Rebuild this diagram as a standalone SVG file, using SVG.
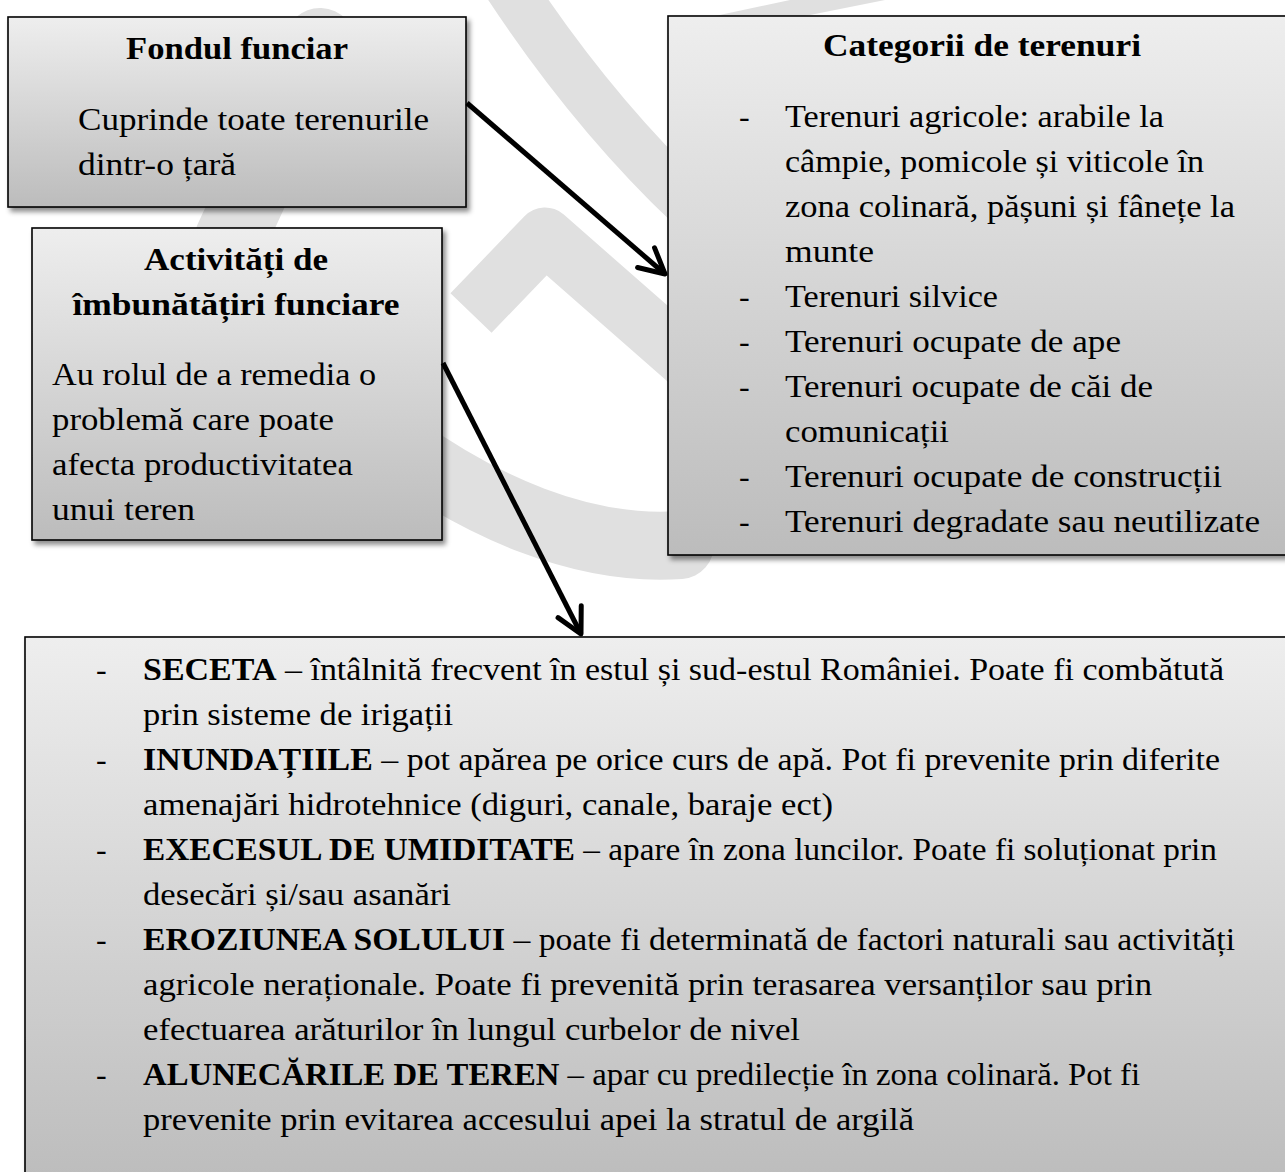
<svg xmlns="http://www.w3.org/2000/svg" width="1285" height="1172" viewBox="0 0 1285 1172">
<defs>
<linearGradient id="g" x1="0" y1="0" x2="0" y2="1">
<stop offset="0" stop-color="#eeeeee"/>
<stop offset="1" stop-color="#bcbcbc"/>
</linearGradient>
<filter id="sh" x="-5%" y="-5%" width="112%" height="115%">
<feDropShadow dx="3" dy="4" stdDeviation="2.5" flood-color="#000" flood-opacity="0.45"/>
</filter>
<marker id="ah" markerUnits="userSpaceOnUse" viewBox="-32 -20 40 40" markerWidth="40" markerHeight="40" refX="0" refY="0" orient="auto" overflow="visible">
<path d="M -25,-13 L 0,0 L -25,13" fill="none" stroke="#000" stroke-width="5" stroke-linecap="round" stroke-linejoin="round"/>
</marker>
<style>
.box{fill:url(#g);stroke:#000;stroke-width:1.6;filter:url(#sh)}
.t{font-family:"Liberation Serif","Times New Roman",serif;font-size:32px;fill:#000}
.b{font-weight:bold}
.c{text-anchor:middle}
.wm{fill:none;stroke:#e0e0e0}
.conn{fill:none;stroke:#000;stroke-width:5;marker-end:url(#ah)}
</style>
</defs>
<rect width="1285" height="1172" fill="#fff"/>
<g id="watermark">
<path class="wm" d="M 320,44 L 230,240" stroke-width="72" stroke-linecap="round"/>
<path class="wm" d="M 505,-20 Q 590,110 690,205" stroke-width="50"/>
<polygon points="790,0 885,0 805,16 715,16" fill="#e0e0e0"/>
<path class="wm" d="M 471,313 L 545,236 L 700,372" stroke-width="57" stroke-linejoin="round"/>
<path class="wm" d="M 400,448 C 480,505 580,552 680,545" stroke-width="68" stroke-linecap="round"/>
</g>
<g id="fondul">
<rect class="box" x="8" y="17" width="458" height="190"/>
<text class="t b c" x="237" y="59" textLength="222" lengthAdjust="spacingAndGlyphs">Fondul funciar</text>
<text class="t" x="78" y="130" textLength="351" lengthAdjust="spacingAndGlyphs">Cuprinde toate terenurile</text>
<text class="t" x="78" y="175" textLength="158" lengthAdjust="spacingAndGlyphs">dintr-o țară</text>
</g>
<g id="activitati">
<rect class="box" x="32" y="228" width="410" height="312"/>
<text class="t b c" x="236" y="270" textLength="184" lengthAdjust="spacingAndGlyphs">Activități de</text>
<text class="t b c" x="236" y="315" textLength="327" lengthAdjust="spacingAndGlyphs">îmbunătățiri funciare</text>
<text class="t" x="52" y="385" textLength="324" lengthAdjust="spacingAndGlyphs">Au rolul de a remedia o</text>
<text class="t" x="52" y="430" textLength="282" lengthAdjust="spacingAndGlyphs">problemă care poate</text>
<text class="t" x="52" y="475" textLength="301" lengthAdjust="spacingAndGlyphs">afecta productivitatea</text>
<text class="t" x="52" y="520" textLength="143" lengthAdjust="spacingAndGlyphs">unui teren</text>
</g>
<g id="categorii">
<rect class="box" x="668" y="16" width="630" height="539"/>
<text class="t b c" x="982" y="56" textLength="318" lengthAdjust="spacingAndGlyphs">Categorii de terenuri</text>
<text class="t" x="739" y="127">-</text>
<text class="t" x="785" y="127" textLength="379" lengthAdjust="spacingAndGlyphs">Terenuri agricole: arabile la</text>
<text class="t" x="785" y="172" textLength="419" lengthAdjust="spacingAndGlyphs">câmpie, pomicole și viticole în</text>
<text class="t" x="785" y="217" textLength="450" lengthAdjust="spacingAndGlyphs">zona colinară, pășuni și fânețe la</text>
<text class="t" x="785" y="262" textLength="89" lengthAdjust="spacingAndGlyphs">munte</text>
<text class="t" x="739" y="307">-</text>
<text class="t" x="785" y="307" textLength="213" lengthAdjust="spacingAndGlyphs">Terenuri silvice</text>
<text class="t" x="739" y="352">-</text>
<text class="t" x="785" y="352" textLength="336" lengthAdjust="spacingAndGlyphs">Terenuri ocupate de ape</text>
<text class="t" x="739" y="397">-</text>
<text class="t" x="785" y="397" textLength="368" lengthAdjust="spacingAndGlyphs">Terenuri ocupate de căi de</text>
<text class="t" x="785" y="442" textLength="164" lengthAdjust="spacingAndGlyphs">comunicații</text>
<text class="t" x="739" y="487">-</text>
<text class="t" x="785" y="487" textLength="437" lengthAdjust="spacingAndGlyphs">Terenuri ocupate de construcții</text>
<text class="t" x="739" y="532">-</text>
<text class="t" x="785" y="532" textLength="475" lengthAdjust="spacingAndGlyphs">Terenuri degradate sau neutilizate</text>
</g>
<g id="probleme">
<rect class="box" x="25" y="637" width="1275" height="550"/>
<text class="t" x="96" y="680">-</text>
<text class="t" x="143" y="680" textLength="1081" lengthAdjust="spacingAndGlyphs"><tspan class="b">SECETA</tspan> – întâlnită frecvent în estul și sud-estul României. Poate fi combătută</text>
<text class="t" x="143" y="725" textLength="310" lengthAdjust="spacingAndGlyphs">prin sisteme de irigații</text>
<text class="t" x="96" y="770">-</text>
<text class="t" x="143" y="770" textLength="1077" lengthAdjust="spacingAndGlyphs"><tspan class="b">INUNDAȚIILE</tspan> – pot apărea pe orice curs de apă. Pot fi prevenite prin diferite</text>
<text class="t" x="143" y="815" textLength="690" lengthAdjust="spacingAndGlyphs">amenajări hidrotehnice (diguri, canale, baraje ect)</text>
<text class="t" x="96" y="860">-</text>
<text class="t" x="143" y="860" textLength="1074" lengthAdjust="spacingAndGlyphs"><tspan class="b">EXECESUL DE UMIDITATE</tspan> – apare în zona luncilor. Poate fi soluționat prin</text>
<text class="t" x="143" y="905" textLength="308" lengthAdjust="spacingAndGlyphs">desecări și/sau asanări</text>
<text class="t" x="96" y="950">-</text>
<text class="t" x="143" y="950" textLength="1092" lengthAdjust="spacingAndGlyphs"><tspan class="b">EROZIUNEA SOLULUI</tspan> – poate fi determinată de factori naturali sau activități</text>
<text class="t" x="143" y="995" textLength="1009" lengthAdjust="spacingAndGlyphs">agricole neraționale. Poate fi prevenită prin terasarea versanților sau prin</text>
<text class="t" x="143" y="1040" textLength="657" lengthAdjust="spacingAndGlyphs">efectuarea arăturilor în lungul curbelor de nivel</text>
<text class="t" x="96" y="1085">-</text>
<text class="t" x="143" y="1085" textLength="997" lengthAdjust="spacingAndGlyphs"><tspan class="b">ALUNECĂRILE DE TEREN</tspan> – apar cu predilecție în zona colinară. Pot fi</text>
<text class="t" x="143" y="1130" textLength="771" lengthAdjust="spacingAndGlyphs">prevenite prin evitarea accesului apei la stratul de argilă</text>
</g>
<g id="connectors">
<path class="conn" d="M 467,103 L 665,274"/>
<path class="conn" d="M 443,363 L 581,634"/>
</g>
</svg>
